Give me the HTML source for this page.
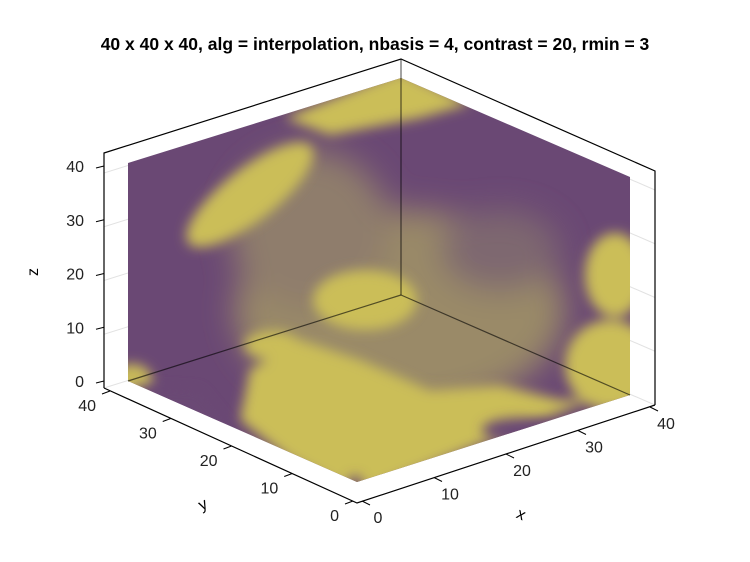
<!DOCTYPE html>
<html><head><meta charset="utf-8"><style>
body{margin:0;background:#fff;}
svg{display:block;font-family:"Liberation Sans",Arial,sans-serif;}
</style></head><body>
<svg width="750" height="562" viewBox="0 0 750 562">
<defs>
<clipPath id="cube"><polygon points="401,78 128,163 128,381 357,482 630,395 630,177"/></clipPath>
<filter id="b6" x="-50%" y="-50%" width="200%" height="200%"><feGaussianBlur stdDeviation="6"/></filter>
<filter id="b12" x="-50%" y="-50%" width="200%" height="200%"><feGaussianBlur stdDeviation="16"/></filter>
</defs>
<text x="375" y="50" text-anchor="middle" font-size="17.5" font-weight="bold" fill="#000">40 x 40 x 40, alg = interpolation, nbasis = 4, contrast = 20, rmin = 3</text>
<g stroke="#e2e2e2" stroke-width="1" fill="none" id="grid"></g>
<g clip-path="url(#cube)">
<rect x="100" y="60" width="560" height="450" fill="#6a4874"/>
<g filter="url(#b12)">
<ellipse cx="400" cy="310" rx="165" ry="100" fill="#9a8a68"/>
<ellipse cx="310" cy="230" rx="80" ry="80" fill="#8f7d6c"/>
<ellipse cx="500" cy="250" rx="60" ry="40" fill="#7e6870"/>
</g>
<g filter="url(#b6)" fill="#cbbe58">
<polygon points="285,118 401,70 470,104 420,118 330,135"/>
<ellipse cx="250" cy="195" rx="78" ry="26" transform="rotate(-38 250 195)"/>
<ellipse cx="365" cy="300" rx="52" ry="30"/>
<polygon points="240,420 250,370 300,340 360,360 430,390 500,385 560,400 590,400 357,495 290,460"/>
<ellipse cx="272" cy="345" rx="28" ry="14"/>
<ellipse cx="615" cy="275" rx="30" ry="42"/>
<ellipse cx="610" cy="365" rx="45" ry="45"/>
<ellipse cx="132" cy="380" rx="20" ry="16"/>
</g>
<g filter="url(#b6)" fill="#6a4874">
<polygon points="128,385 200,390 240,440 170,420"/>
<ellipse cx="520" cy="430" rx="38" ry="12"/>
<ellipse cx="355" cy="488" rx="8" ry="12"/>
</g>
</g>
<g stroke="#000" stroke-width="1.2" fill="none">
<polyline points="104,388 104,153 401,59 655,171 655,405"/>
<polyline points="104,388 357,503 655,405"/>
<line x1="401" y1="59" x2="401" y2="295" stroke-opacity="0.6"/>
<line x1="401" y1="295" x2="128" y2="381" stroke-opacity="0.6"/>
<line x1="401" y1="295" x2="630" y2="395" stroke-opacity="0.6"/>
</g>
<g id="ticks" font-size="16" fill="#222"></g>
<text x="38" y="272" font-size="16" transform="rotate(-90 38 272)" text-anchor="middle">z</text>
<text x="205" y="509" font-size="16" text-anchor="middle" transform="rotate(-25 205 509)">y</text>
<text x="519" y="519" font-size="16" text-anchor="middle" transform="rotate(25 519 519)">x</text>
</svg>
<script>
const zTicks=[0,10,20,30,40];
const yTicks=[0,10,20,30,40];
const xTicks=[0,10,20,30,40];
const NS="http://www.w3.org/2000/svg";
const g=document.getElementById('ticks');
function mk(tag,attrs){const e=document.createElementNS(NS,tag);for(const k in attrs)e.setAttribute(k,attrs[k]);return e;}
zTicks.forEach(v=>{const y=381-v/40*215;
 const l=mk('line',{x1:96,y1:y+2,x2:104,y2:y,stroke:'#000'});
 
 
 g.appendChild(l);
 const t=mk('text',{x:84,y:y+6,'text-anchor':'end'});t.textContent=v;
 
 
 g.appendChild(t);});
yTicks.forEach(v=>{const f=v/40;const x=353-f*243,y=501-f*110;
 const l=mk('line',{x1:x,y1:y,x2:x-8,y2:y+3,stroke:'#000'});
 
 
 g.appendChild(l);
 const t=mk('text',{x:x-14,y:y+20,'text-anchor':'end'});t.textContent=v;
 
 
 g.appendChild(t);});
xTicks.forEach(v=>{const f=v/40;const x=362+f*288,y=501-f*94;
 const l=mk('line',{x1:x,y1:y,x2:x+8,y2:y+4,stroke:'#000'});
 
 
 g.appendChild(l);
 const t=mk('text',{x:x+16,y:y+22,'text-anchor':'middle'});t.textContent=v;
 
 
 g.appendChild(t);});
const gr=document.getElementById('grid');
zTicks.forEach(v=>{const d=v/40*215;
 const a=mk('polyline',{points:`104,${388-d} 401,${295-d} 655,${405-d}`});
 
 
 gr.appendChild(a);});
</script>
</body></html>
